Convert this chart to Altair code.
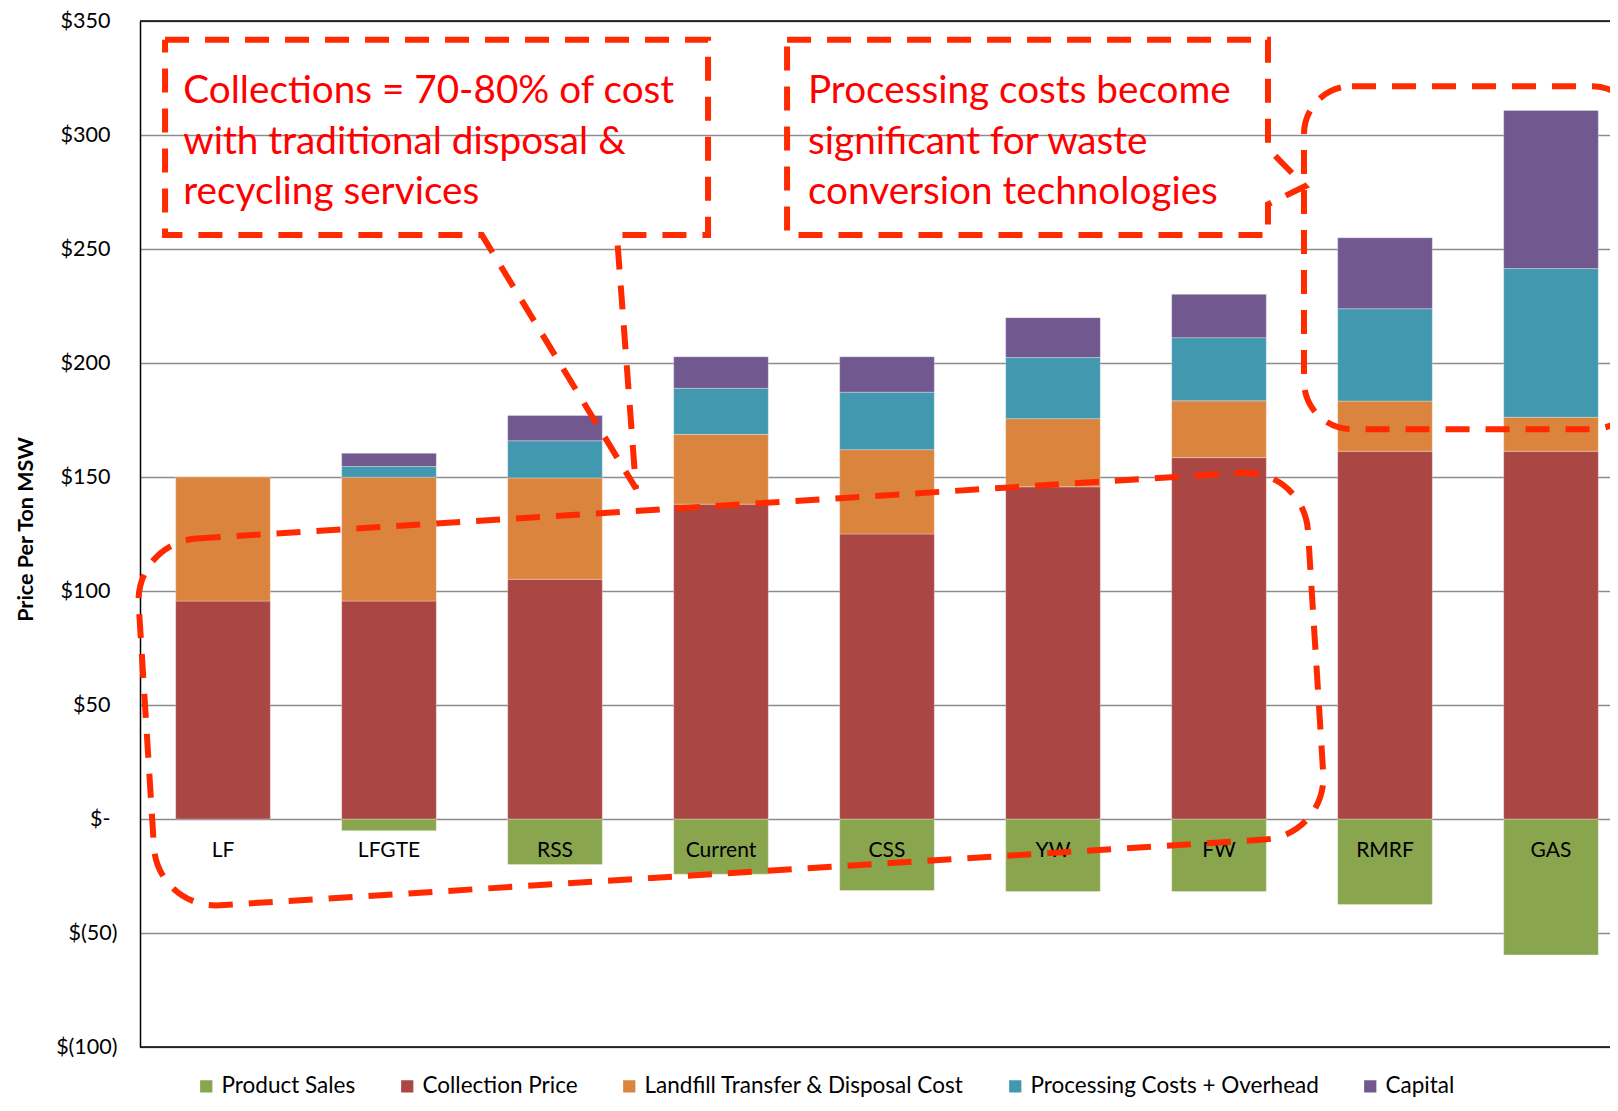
import altair as alt
import pandas as pd

# ---------------- data ----------------
categories = ["LF", "LFGTE", "RSS", "Current", "CSS", "YW", "FW", "RMRF", "GAS"]
series_names = [
    "Product Sales",
    "Collection Price",
    "Landfill Transfer & Disposal Cost",
    "Processing Costs + Overhead",
    "Capital",
]
series_colors = ["#89A54E", "#AA4643", "#DB843D", "#4198AF", "#71588F"]

product_sales = [0, -5.1, -20.0, -24.2, -31.4, -31.8, -31.8, -37.5, -59.6]
collection = [95.6, 95.6, 105.1, 138.1, 125.0, 145.7, 158.5, 161.3, 161.3]
landfill = [54.4, 54.3, 44.5, 30.6, 37.0, 29.9, 24.9, 22.0, 14.9]
processing = [0, 4.7, 16.3, 20.2, 25.2, 26.8, 27.7, 40.5, 65.2]
capital = [0, 5.8, 11.1, 13.8, 15.5, 17.5, 19.0, 31.1, 69.4]

y_ticks = [-100, -50, 0, 50, 100, 150, 200, 250, 300, 350]
frame_levels = [-100, 350]

# annotation text (x in category-slot units, y in dollars)
note_lines = [
    "Collections = 70-80% of cost",
    "with traditional disposal &",
    "recycling services",
    "Processing costs become",
    "significant for waste",
    "conversion technologies",
]
note_x = [0.261, 0.261, 0.261, 4.024, 4.024, 4.024]
note_y = [313.9, 291.8, 269.6, 313.9, 291.8, 269.6]

# callout boxes outlines (slot units, dollars)
box1_x = [0.151, 3.422, 3.422, 2.873, 2.988, 2.060, 0.151, 0.151]
box1_y = [341.8, 341.8, 256.1, 256.1, 144.9, 256.1, 256.1, 341.8]
box2_x = [3.898, 6.795, 6.795, 7.018, 6.795, 6.795, 3.898, 3.898]
box2_y = [341.8, 341.8, 294.1, 277.5, 269.6, 256.1, 256.1, 341.8]

# rounded highlight shapes: centers (slot units, dollars)
ringA_center = (3.560, 57.0)
ringB_center = (8.024, 246.2)

# ---------------- tables ----------------
rows = []
for k, (name, vals) in enumerate(
    zip(series_names, [product_sales, collection, landfill, processing, capital])
):
    for i, cat in enumerate(categories):
        if vals[i] != 0:
            rows.append({"category": cat, "series": name, "value": vals[i], "ord": k})
df = pd.DataFrame(rows)

cat_df = pd.DataFrame({"category": categories, "zero": [0] * len(categories)})
frame_df = pd.DataFrame({"lvl": frame_levels})
notes_df = pd.DataFrame({"txt": note_lines, "sx": note_x, "sy": note_y})
box_rows = []
for sid, (bx, by) in enumerate([(box1_x, box1_y), (box2_x, box2_y)]):
    for j, (a, b) in enumerate(zip(bx, by)):
        box_rows.append({"shape": sid, "idx": j, "sx": a, "sy": b})
boxes_df = pd.DataFrame(box_rows)
ringA_df = pd.DataFrame({"sx": [ringA_center[0]], "sy": [ringA_center[1]]})
ringB_df = pd.DataFrame({"sx": [ringB_center[0]], "sy": [ringB_center[1]]})

# ---------------- style ----------------
FONT = "Lato"
RED_LINE = "#FF2A00"
DASH = [24, 16]
W, H = 1470, 1026
X_RANGE = [0, 1494]

yscale = alt.Scale(domain=[-100, 350], nice=False, zero=False)
yaxis = alt.Axis(
    values=y_ticks,
    title="Price Per Ton MSW",
    titleFont=FONT,
    titleFontSize=21.5,
    titleFontWeight="bold",
    titleColor="black",
    titleAngle=270,
    titleX=-114,
    titleY=508,
    titleAlign="center",
    titleBaseline="middle",
    labelExpr=(
        "datum.value == 0 ? '$-' : (datum.value < 0 ? "
        "'$(' + format(-datum.value, 'd') + ')' : "
        "'$' + format(datum.value, 'd'))"
    ),
    labelFont=FONT,
    labelFontSize=21.5,
    labelColor="black",
    labelPadding={"condition": {"test": "datum.value < 0", "value": 23}, "value": 30},
    ticks=False,
    domain=True,
    domainColor="black",
    domainWidth=1.5,
    grid=True,
    gridColor="#8c8c8c",
    gridWidth=1.5,
)

band_x = alt.X(
    "category:N",
    sort=categories,
    scale=alt.Scale(domain=categories, range=X_RANGE, paddingInner=0.43, paddingOuter=0.215),
    axis=None,
)
slot_x = alt.Scale(domain=[0, 9], range=X_RANGE, zero=False, nice=False)


def ypos(field):
    return alt.Y(field, scale=yscale, axis=yaxis)


bars = alt.Chart(df).mark_bar(stroke="white", strokeWidth=0.6, strokeOpacity=0.5).encode(
    x=band_x,
    y=alt.Y("value:Q", stack="zero", scale=yscale, axis=yaxis),
    color=alt.Color(
        "series:N",
        scale=alt.Scale(domain=series_names, range=series_colors),
        legend=alt.Legend(
            title=None,
            orient="none",
            legendX=55,
            legendY=1054,
            direction="horizontal",
            symbolType="square",
            symbolSize=150,
            symbolStrokeWidth=0,
            labelFont=FONT,
            labelFontSize=22.5,
            labelColor="black",
            labelLimit=700,
            labelOffset=4,
            columnPadding=40,
            padding=0,
        ),
    ),
    order=alt.Order("ord:Q"),
)

frame = alt.Chart(frame_df).mark_rule(color="black", strokeWidth=1.5).encode(
    y=ypos("lvl:Q")
)

cat_labels = alt.Chart(cat_df).mark_text(
    dy=32, font=FONT, fontSize=21, color="black"
).encode(x=band_x, y=ypos("zero:Q"), text="category:N")

boxes = alt.Chart(boxes_df).mark_line(
    color=RED_LINE, strokeWidth=6, strokeDash=DASH, strokeJoin="miter"
).encode(
    x=alt.X("sx:Q", scale=slot_x, axis=None),
    y=ypos("sy:Q"),
    detail="shape:N",
    order="idx:Q",
)

notes = alt.Chart(notes_df).mark_text(
    align="left", baseline="alphabetic", font=FONT, fontSize=38.7, color="#FF0000"
).encode(
    x=alt.X("sx:Q", scale=slot_x, axis=None),
    y=ypos("sy:Q"),
    text="txt:N",
)

pathA = (
    "M -523.8,-183.7 L 523.8,-183.7 A 62,62 0 0 1 585.8,-121.7 "
    "L 585.8,121.7 A 62,62 0 0 1 523.8,183.7 L -523.8,183.7 "
    "A 62,62 0 0 1 -585.8,121.7 L -585.8,-121.7 A 62,62 0 0 1 -523.8,-183.7 Z"
)
pathB = (
    "M -120,-171.5 L 120,-171.5 A 48,48 0 0 1 168,-123.5 "
    "L 168,123.5 A 48,48 0 0 1 120,171.5 L -120,171.5 "
    "A 48,48 0 0 1 -168,123.5 L -168,-123.5 A 48,48 0 0 1 -120,-171.5 Z"
)

ringA = alt.Chart(ringA_df).mark_point(
    shape=pathA, size=4, angle=356.4, filled=False, stroke=RED_LINE,
    strokeWidth=6, strokeDash=DASH, opacity=1,
).encode(
    x=alt.X("sx:Q", scale=slot_x, axis=None),
    y=ypos("sy:Q"),
)
ringB = alt.Chart(ringB_df).mark_point(
    shape=pathB, size=4, filled=False, stroke=RED_LINE,
    strokeWidth=6, strokeDash=DASH, opacity=1,
).encode(
    x=alt.X("sx:Q", scale=slot_x, axis=None),
    y=ypos("sy:Q"),
)

chart = (
    alt.layer(bars, frame, cat_labels, boxes, notes, ringA, ringB)
    .resolve_scale(x="independent")
    .properties(
        width=W,
        height=H,
        padding={"left": 132, "top": 13, "right": 0, "bottom": 51},
        autosize=alt.AutoSizeParams(type="none"),
        background="white",
    )
    .configure_view(strokeWidth=0)
)

chart.save("out.html", embed_options={"renderer": "svg", "actions": False})
